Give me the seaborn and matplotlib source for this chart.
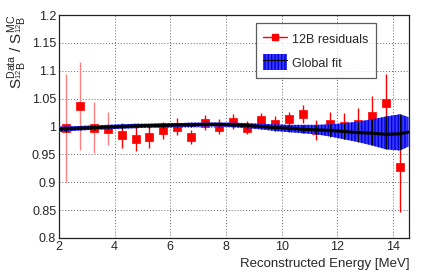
import numpy as np
import pandas as pd
import matplotlib
matplotlib.use("Agg")
import matplotlib.pyplot as plt
import seaborn as sns
from matplotlib.lines import Line2D
from matplotlib.patches import Patch
from matplotlib.ticker import MultipleLocator, FuncFormatter

# 12B residuals (data / MC)
res_energy = [2.25, 2.75, 3.25, 3.75, 4.25, 4.75, 5.25, 5.75, 6.25, 6.75, 7.25, 7.75, 8.25,
              8.75, 9.25, 9.75, 10.25, 10.75, 11.25, 11.75, 12.25, 12.75, 13.25, 13.75, 14.25]
res_ratio = [0.997, 1.036, 0.998, 0.996, 0.984, 0.978, 0.982, 0.993, 1.000, 0.981, 1.007, 1.000, 1.009,
             0.998, 1.012, 1.005, 1.013, 1.022, 0.994, 1.005, 1.001, 1.004, 1.019, 1.043, 0.927]
res_err = [0.097, 0.079, 0.046, 0.030, 0.023, 0.022, 0.020, 0.015, 0.016, 0.012, 0.013, 0.013, 0.014,
           0.012, 0.013, 0.013, 0.013, 0.016, 0.018, 0.021, 0.024, 0.029, 0.036, 0.051, 0.080]

# global fit band
fit_energy = [2.0, 2.25, 2.75, 3.25, 3.75, 4.25, 4.75, 5.25, 5.75, 6.25, 6.75, 7.25, 7.75, 8.25,
              8.75, 9.25, 9.75, 10.25, 10.75, 11.25, 11.75, 12.25, 12.75, 13.25, 13.75, 14.25, 14.55]
fit_center = [0.995, 0.996, 0.997, 0.998, 0.999, 1.000, 1.001, 1.002, 1.002, 1.003, 1.003, 1.004, 1.004, 1.003,
              1.002, 1.000, 0.998, 0.997, 0.995, 0.994, 0.993, 0.991, 0.989, 0.988, 0.986, 0.987, 0.990]
fit_upper = [1.000, 1.000, 1.001, 1.002, 1.003, 1.004, 1.005, 1.005, 1.006, 1.006, 1.007, 1.007, 1.007, 1.007,
             1.006, 1.005, 1.004, 1.003, 1.003, 1.003, 1.004, 1.006, 1.009, 1.013, 1.018, 1.022, 1.017]
fit_lower = [0.990, 0.991, 0.993, 0.994, 0.995, 0.996, 0.997, 0.998, 0.998, 0.999, 0.999, 1.000, 1.000, 0.999,
             0.997, 0.995, 0.992, 0.990, 0.988, 0.986, 0.982, 0.977, 0.972, 0.966, 0.959, 0.957, 0.964]

res = pd.DataFrame({"energy": res_energy, "ratio": res_ratio, "err": res_err})
fit = pd.DataFrame({"energy": fit_energy, "center": fit_center, "upper": fit_upper, "lower": fit_lower})

sns.set_style("white")
plt.rcParams["font.family"] = ["Liberation Sans", "DejaVu Sans"]
plt.rcParams["mathtext.fontset"] = "custom"
plt.rcParams["mathtext.rm"] = "Liberation Sans"
plt.rcParams["mathtext.it"] = "Liberation Sans"
plt.rcParams["hatch.linewidth"] = 1.0

fig = plt.figure(figsize=(4.4, 2.79), dpi=100)
ax = fig.add_axes([0.134, 0.147, 0.796, 0.799])

# residuals: error bars then markers
ecolors = ["#ff8080" if e > 0.028 and x < 4 else "red" for x, e in zip(res_energy, res_err)]
ax.errorbar(res["energy"], res["ratio"], yerr=res["err"], fmt="none",
            ecolor=ecolors, elinewidth=1.0, capsize=0, zorder=2)
sns.scatterplot(data=res, x="energy", y="ratio", marker="s", s=30, color="red",
                edgecolor="red", linewidth=0.5, ax=ax, zorder=3, legend=False)

# fit band on top
ax.fill_between(fit["energy"], fit["lower"], fit["upper"], facecolor="#3a3aff",
                edgecolor="#0000dd", hatch="|||||", linewidth=0, zorder=4)
ax.vlines(fit["energy"][1:-1], fit["lower"][1:-1], fit["upper"][1:-1], color="black",
          linewidth=0.8, zorder=5)
sns.lineplot(data=fit, x="energy", y="center", color="black", linewidth=2.2,
             estimator=None, ax=ax, zorder=6)

ax.set_xlim(2, 14.58)
ax.set_ylim(0.8, 1.2)
ax.xaxis.set_major_locator(MultipleLocator(2))
ax.xaxis.set_minor_locator(MultipleLocator(0.5))
ax.yaxis.set_major_locator(MultipleLocator(0.05))
ax.yaxis.set_minor_locator(MultipleLocator(0.025))
ax.yaxis.set_major_formatter(FuncFormatter(lambda v, p: "%g" % round(v, 3)))
ax.tick_params(which="both", direction="in", top=False, right=False, labelsize=9, pad=2)
ax.tick_params(which="major", length=5, width=0.8)
ax.tick_params(which="minor", length=3, width=0.8)
ax.grid(True, which="major", linestyle=(0, (1, 2)), color="#666666", linewidth=0.7)
for sp in ax.spines.values():
    sp.set_color("#222222")
    sp.set_linewidth(0.9)

ax.set_xlabel("Reconstructed Energy [MeV]", fontsize=9.5, loc="right", labelpad=4)
ax.set_ylabel(r"$\mathrm{S}^{\mathrm{Data}}_{^{12}\mathrm{B}}$ / $\mathrm{S}^{\mathrm{MC}}_{^{12}\mathrm{B}}$",
              fontsize=11, loc="top", labelpad=2)

h1 = Line2D([], [], color="red", marker="s", markersize=5, linewidth=1.0)
h2 = (Patch(facecolor="#3a3aff", edgecolor="#0000dd", hatch="|||||", linewidth=0),
      Line2D([], [], color="black", linewidth=0.8))
leg = ax.legend([h1, h2], ["12B residuals", "Global fit"], loc="upper left",
                bbox_to_anchor=(0.562, 0.963), frameon=True, fancybox=False,
                edgecolor="#333333", fontsize=9, handlelength=1.9, handleheight=1.6,
                labelspacing=0.6, borderpad=0.6, handletextpad=0.4, borderaxespad=0)
leg.get_frame().set_linewidth(0.9)
leg.set_zorder(10)

fig.savefig("out.png", dpi=100)
